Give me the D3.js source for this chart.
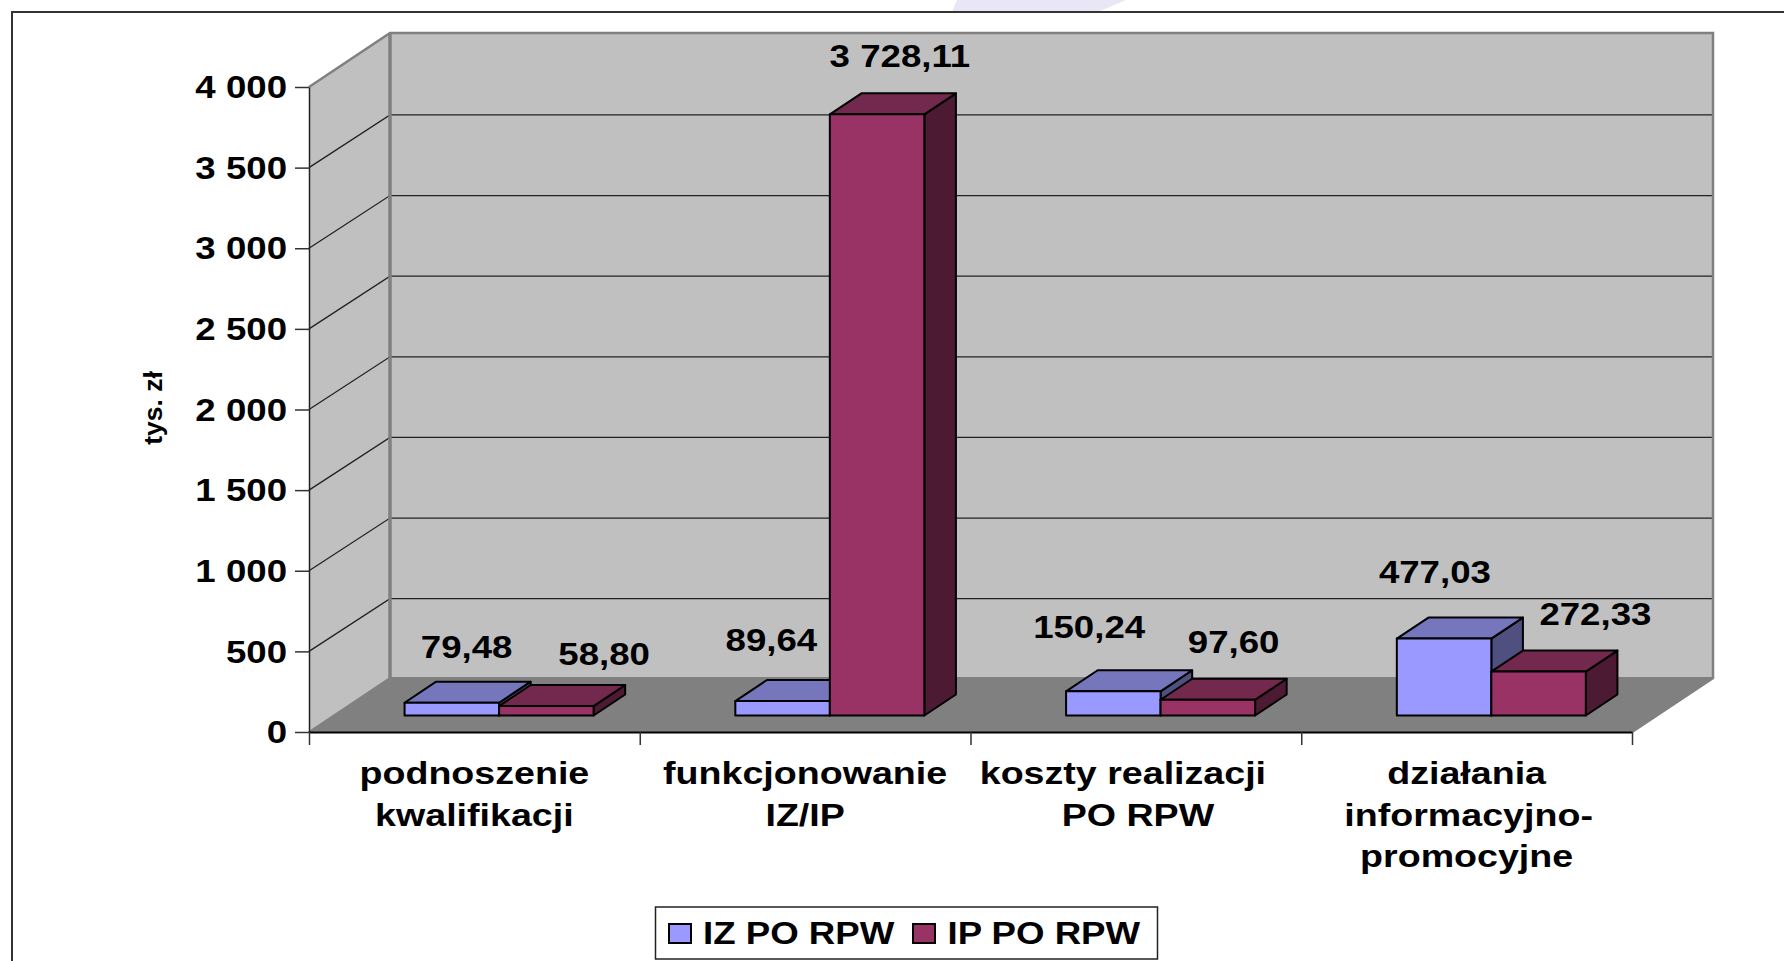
<!DOCTYPE html>
<html><head><meta charset="utf-8">
<script src="https://cdn.jsdelivr.net/npm/d3@7/dist/d3.min.js"></script>
<style>html,body{margin:0;padding:0;background:#fff;overflow:hidden}svg{display:block}
text{font-family:"Liberation Sans",Arial,sans-serif;font-weight:700;fill:#000}</style>
</head><body><svg id="c" width="1784" height="961"></svg>
<script>
const categories = [["podnoszenie","kwalifikacji"],["funkcjonowanie","IZ/IP"],["koszty realizacji","PO RPW"],["działania","informacyjno-","promocyjne"]];
const seriesNames = ["IZ PO RPW","IP PO RPW"];
const izValues = [79.48,89.64,150.24,477.03];
const ipValues = [58.80,3728.11,97.60,272.33];
const izLabels = ["79,48","89,64","150,24","477,03"];
const ipLabels = ["58,80","3 728,11","97,60","272,33"];
const yTicks = [0,500,1000,1500,2000,2500,3000,3500,4000];
const yTickLabels = ["0","500","1 000","1 500","2 000","2 500","3 000","3 500","4 000"];
const axisTitle = "tys. zł";
// manual label nudges (layout, relative to bar top)
const izNudge = [[-1,-45],[-27,-51],[-40,-54],[-25,-56]];
const ipNudge = [[42,-42],[7,-48],[10,-47],[41,-47]];

const fills = [{front:"#9999FF",top:"#7676BD",side:"#4F4F80"},{front:"#993366",top:"#73294D",side:"#4D1A33"}];
const L=309,R=1632,Y0=732,Y1=87,DX=81,DY=54,SX=1.145,CAT_SX=1.175,FS=32,GRID_SHIFT=1.3,BAR_DEPTH=0.39;
const svg=d3.select("#c");
const y=d3.scaleLinear().domain([0,4000]).range([Y0,Y1]);
const x0=d3.scaleBand().domain(d3.range(categories.length)).range([L,R]).paddingInner(0).paddingOuter(0);
const x1=d3.scaleBand().domain([0,1]).range([0,x0.bandwidth()]).paddingInner(0).paddingOuter(0.75);
const edge=d3.scaleLinear().domain([0,categories.length]).range([L,R]);
const zx=d3.scaleLinear().domain([0,1]).range([0,DX]);
const zy=d3.scaleLinear().domain([0,1]).range([0,-DY]);
const P=(px,py,z)=>[px+zx(z),py+zy(z)];
const poly=pts=>pts.map(p=>p.join(",")).join(" ");
function txt(g,s,cx,cy,anchor,sx){
  return g.append("text").attr("text-anchor",anchor||"middle").attr("font-size",FS)
   .attr("dy",".35em").attr("transform",`translate(${cx},${cy}) scale(${sx||SX},1)`).text(s);
}
// background watermark fragment
svg.append("polygon").attr("points",poly([[957,0],[1126,0],[1098,12],[952,12]])).attr("fill","#E9E7F5");
// outer frame
svg.append("path").attr("d","M1784,12H12V961").attr("fill","none").attr("stroke","#333").attr("stroke-width",2);

// walls
svg.append("polygon").attr("points",poly([P(L,y(0),0),P(L,y(0),1),P(L,y(4000),1),P(L,y(4000),0)])).attr("fill","#C0C0C0");
svg.append("polygon").attr("points",poly([P(L,y(0),1),P(R,y(0),1),P(R,y(4000),1),P(L,y(4000),1)])).attr("fill","#C0C0C0");
svg.append("polygon").attr("points",poly([P(L,y(0),0),P(R,y(0),0),P(R,y(0),1),P(L,y(0),1)])).attr("fill","#808080");
// grid
const grid=svg.append("g");
yTicks.filter(t=>t>0&&t<4000).forEach(t=>{
  const a=P(L,y(t),0),b=P(L,y(t),1),c=P(R,y(t),1);
  grid.append("path").attr("d",`M${a}L${b[0]},${b[1]+GRID_SHIFT}L${c[0]},${c[1]+GRID_SHIFT}`).attr("fill","none").attr("stroke","#222").attr("stroke-width",1.3);
});
// wall borders
svg.append("path").attr("d","M"+P(L,y(4000),0)+"L"+P(L,y(4000),1)+"L"+P(R,y(4000),1)+"L"+P(R,y(0),1)+"L"+P(R,y(0),0)).attr("fill","none").attr("stroke","#808080").attr("stroke-width",2.5);
svg.append("path").attr("d","M"+P(L,y(0),1)+"L"+P(L,y(4000),1)).attr("stroke","#808080").attr("stroke-width",3.5);
svg.append("path").attr("d","M"+P(L,y(0),0)+"L"+P(L,y(0),1)+"L"+P(R,y(0),1)).attr("fill","none").attr("stroke","#808080").attr("stroke-width",2);

// axes
const ya=svg.append("g").attr("transform",`translate(${L},0)`).call(d3.axisLeft(y).tickValues(yTicks).tickSize(14).tickSizeOuter(0).tickFormat(""));
ya.selectAll(".domain").attr("stroke","#222").attr("stroke-width",1.5);
ya.selectAll(".tick line").attr("stroke","#333").attr("stroke-width",1.5);
yTicks.forEach((t,i)=>txt(svg,yTickLabels[i],287,y(t),"end"));
const xa=svg.append("g").attr("transform",`translate(0,${Y0})`).call(d3.axisBottom(edge).tickValues(d3.range(categories.length+1)).tickSize(13).tickSizeOuter(0).tickFormat(""));
xa.selectAll(".domain").attr("stroke","#000").attr("stroke-width",2);
xa.selectAll(".tick line").attr("stroke","#333").attr("stroke-width",1.5);
const catNudge = {"koszty realizacji":-13,"PO RPW":2,"informacyjno-":2};
categories.forEach((lines,i)=>lines.forEach((s,j)=>txt(svg,s,x0(i)+x0.bandwidth()/2+(catNudge[s]||0),773+j*41.5,"middle",CAT_SX)));

// bars
const Z0=(1-BAR_DEPTH)/2,Z1=Z0+BAR_DEPTH;
[izValues,ipValues].forEach((vals,si)=>{
 const c=fills[si];
 const g=svg.append("g");
 vals.forEach((v,i)=>{
  const a=x0(i)+x1(si), b=a+x1.bandwidth(), t=y(v), o=y(0);
  const st={stroke:"#000","stroke-width":2,"stroke-linejoin":"round"};
  const add=(pts,f)=>{const e=g.append("polygon").attr("points",poly(pts)).attr("fill",f);Object.entries(st).forEach(([k,w])=>e.attr(k,w));};
  add([P(b,o,Z0),P(b,o,Z1),P(b,t,Z1),P(b,t,Z0)],c.side);
  add([P(a,t,Z0),P(b,t,Z0),P(b,t,Z1),P(a,t,Z1)],c.top);
  add([P(a,o,Z0),P(b,o,Z0),P(b,t,Z0),P(a,t,Z0)],c.front);
 });
});
[[izValues,izLabels,izNudge,0],[ipValues,ipLabels,ipNudge,1]].forEach(([vals,labels,nudge,si])=>{
 vals.forEach((v,i)=>{
  const p=P(x0(i)+x1(si)+x1.bandwidth()/2,y(v),(Z0+Z1)/2);
  txt(svg,labels[i],p[0]+nudge[i][0],p[1]+nudge[i][1]);
 });
});
// axis title
svg.append("text").attr("text-anchor","middle").attr("font-size",25).attr("dy",".35em")
 .attr("transform","translate(153,408) rotate(-90) scale(1.06,1)").text(axisTitle);
// legend
const lg=svg.append("g");
lg.append("rect").attr("x",655.5).attr("y",907).attr("width",502).attr("height",52).attr("fill","#fff").attr("stroke","#222").attr("stroke-width",1.5);
[[669,703],[913,947.5]].forEach(([sx,tx],i)=>{
 lg.append("rect").attr("x",sx).attr("y",924).attr("width",22).attr("height",19).attr("fill",fills[i].front).attr("stroke","#000").attr("stroke-width",2);
 txt(lg,seriesNames[i],tx,933,"start");
});
</script></body></html>
